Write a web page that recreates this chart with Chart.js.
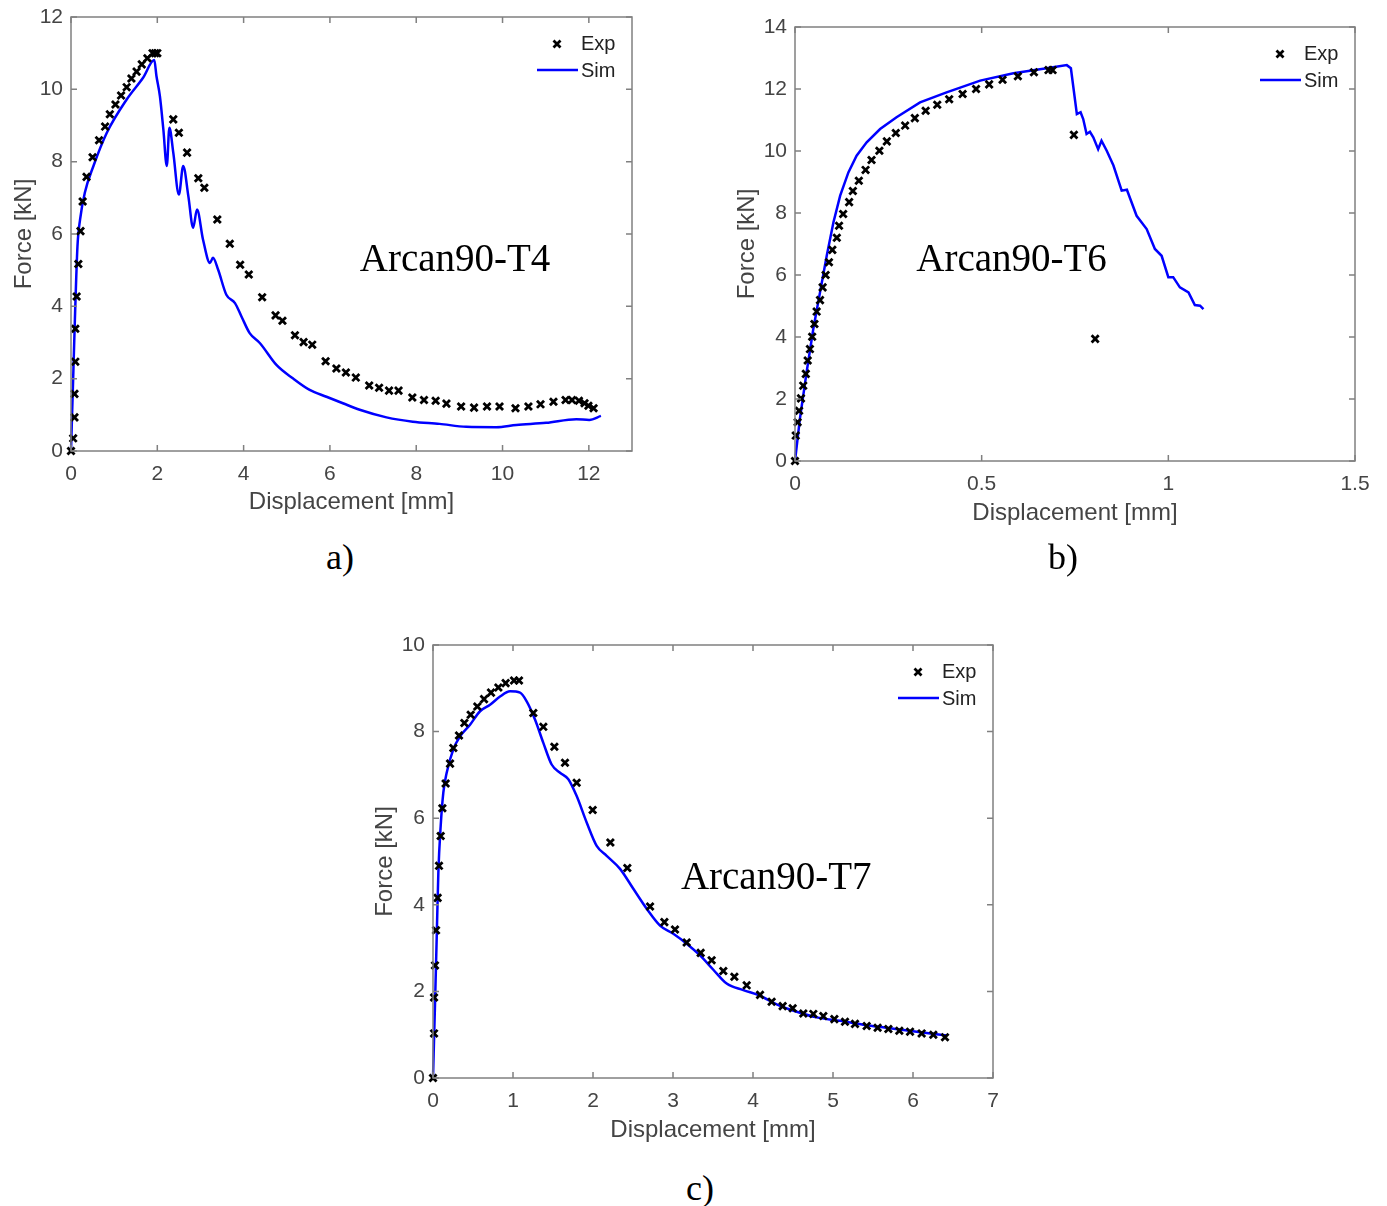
<!DOCTYPE html>
<html lang="en">
<head>
    <script src="https://cdn.jsdelivr.net/npm/chart.js"></script>
    <meta charset="UTF-8">
    <title>Arcan90 force-displacement</title>
    <style>
        body {
            margin: 0;
            background-color: #fff;
            width: 1387px;
            height: 1206px;
            position: relative;
            overflow: hidden;
        }
        canvas {
            position: absolute;
        }
        .panel-label {
            position: absolute;
            font-family: "Liberation Serif", "Times New Roman", serif;
            font-size: 36px;
            color: #000;
            transform: translate(-50%, -50%);
        }
    </style>
</head>
<body>
    <canvas id="chartA" width="650" height="530" style="left:0px; top:0px;"></canvas>
    <canvas id="chartB" width="660" height="540" style="left:720px; top:0px;"></canvas>
    <canvas id="chartC" width="650" height="540" style="left:360px; top:620px;"></canvas>
    <div class="panel-label" style="left:340px; top:557px;">a)</div>
    <div class="panel-label" style="left:1063px; top:557px;">b)</div>
    <div class="panel-label" style="left:700px; top:1188px;">c)</div>

    <script>
        // ---- a) Arcan90-T4 ----
        const expDispA = [0, 0.05, 0.08, 0.08, 0.1, 0.1, 0.13, 0.17, 0.22, 0.27, 0.36, 0.5, 0.65, 0.79, 0.9, 1.03, 1.16, 1.29, 1.4, 1.52, 1.64, 1.77, 1.89, 1.95, 2.0,
            2.37, 2.5, 2.69, 2.95, 3.09, 3.39, 3.68, 3.92, 4.12, 4.43, 4.74, 4.9, 5.19, 5.39, 5.59, 5.9, 6.15, 6.37, 6.6, 6.91, 7.14, 7.37, 7.59,
            7.91, 8.18, 8.45, 8.7, 9.04, 9.34, 9.64, 9.93, 10.3, 10.6, 10.88, 11.18, 11.46, 11.61, 11.77, 11.9, 11.99, 12.11];
        const expForceA = [0, 0.35, 0.93, 1.58, 2.47, 3.38, 4.27, 5.17, 6.08, 6.9, 7.58, 8.12, 8.59, 8.97, 9.31, 9.58, 9.83, 10.06, 10.3, 10.49, 10.69, 10.86, 11.0, 11.0, 11.0,
            9.17, 8.8, 8.25, 7.54, 7.28, 6.4, 5.73, 5.15, 4.88, 4.25, 3.75, 3.6, 3.2, 3.01, 2.94, 2.48, 2.28, 2.17, 2.03, 1.81, 1.75, 1.67, 1.67,
            1.48, 1.41, 1.39, 1.31, 1.23, 1.2, 1.23, 1.23, 1.18, 1.23, 1.29, 1.36, 1.41, 1.41, 1.39, 1.32, 1.25, 1.18];
        const simDispA = [0, 0.05, 0.09, 0.15, 0.21, 0.32, 0.52, 0.83, 1.29, 1.67, 1.93, 1.98, 2.06, 2.14, 2.22, 2.28, 2.37, 2.5, 2.6, 2.72, 2.83, 2.92,
            3.06, 3.22, 3.29, 3.41, 3.6, 3.8, 3.95, 4.14, 4.38, 4.76, 5.14, 5.53, 5.92, 6.3, 6.69, 7.31, 7.92, 8.54, 9.16, 9.85, 10.32, 11.01, 11.71, 12.01, 12.28];
        const simForceA = [0, 2.0, 3.63, 5.66, 6.4, 7.14, 7.88, 8.8, 9.72, 10.32, 10.81, 10.37, 9.81, 8.89, 7.88, 8.94, 8.25, 7.09, 7.88, 7.04, 6.17, 6.68,
            5.84, 5.2, 5.34, 5.01, 4.32, 4.09, 3.72, 3.26, 2.98, 2.38, 2.01, 1.69, 1.5, 1.32, 1.14, 0.93, 0.81, 0.75, 0.67, 0.66, 0.72, 0.78, 0.88, 0.86, 0.97];
        const xTicksA = [0, 2, 4, 6, 8, 10, 12];
        const xMaxA = 13;
        const yTicksA = [0, 2, 4, 6, 8, 10, 12];

        // ---- b) Arcan90-T6 ----
        const expDispB = [0, 0.002, 0.007, 0.011, 0.016, 0.022, 0.029, 0.034, 0.04, 0.046, 0.052, 0.058, 0.067, 0.074, 0.082, 0.091, 0.1, 0.112, 0.118, 0.129,
            0.145, 0.155, 0.171, 0.189, 0.205, 0.226, 0.246, 0.27, 0.295, 0.321, 0.35, 0.381, 0.413, 0.449, 0.485, 0.52, 0.556, 0.597, 0.64, 0.679, 0.69, 0.747, 0.804];
        const expForceB = [0, 0.82, 1.25, 1.62, 2.02, 2.43, 2.81, 3.24, 3.61, 4.01, 4.42, 4.82, 5.19, 5.6, 6.0, 6.41, 6.81, 7.2, 7.59, 7.97,
            8.35, 8.71, 9.04, 9.39, 9.71, 10.01, 10.31, 10.58, 10.82, 11.06, 11.3, 11.49, 11.67, 11.84, 12.0, 12.15, 12.3, 12.41, 12.54, 12.61, 12.61, 10.52, 3.94];
        const simDispB = [0, 0.013, 0.031, 0.049, 0.067, 0.085, 0.103, 0.121, 0.143, 0.165, 0.192, 0.228, 0.272, 0.335, 0.406, 0.496, 0.585, 0.674, 0.728, 0.739,
            0.755, 0.765, 0.772, 0.781, 0.79, 0.799, 0.812, 0.821, 0.835, 0.853, 0.875, 0.889, 0.915, 0.942, 0.964, 0.982, 1.0, 1.013, 1.031, 1.054, 1.071, 1.085, 1.094];
        const simForceB = [0, 1.35, 2.86, 4.26, 5.44, 6.62, 7.7, 8.56, 9.31, 9.85, 10.28, 10.71, 11.09, 11.57, 11.89, 12.27, 12.51, 12.67, 12.77, 12.67,
            11.19, 11.25, 11.03, 10.55, 10.62, 10.44, 10.06, 10.33, 10.01, 9.53, 8.72, 8.75, 7.91, 7.48, 6.84, 6.62, 5.93, 5.93, 5.6, 5.44, 5.03, 5.01, 4.9];
        const xTicksB = [0, 0.5, 1, 1.5];
        const yTicksB = [0, 2, 4, 6, 8, 10, 12, 14];

        // ---- c) Arcan90-T7 ----
        const expDispC = [0, 0.013, 0.013, 0.025, 0.038, 0.058, 0.075, 0.096, 0.117, 0.158, 0.213, 0.254, 0.325, 0.392, 0.471, 0.554, 0.638, 0.725, 0.817, 0.908,
            1.013, 1.075, 1.254, 1.379, 1.517, 1.65, 1.796, 1.996, 2.217, 2.429, 2.713, 2.892, 3.025, 3.171, 3.346, 3.483, 3.629, 3.767, 3.921, 4.088,
            4.233, 4.371, 4.496, 4.629, 4.754, 4.879, 5.017, 5.15, 5.275, 5.421, 5.558, 5.692, 5.829, 5.963, 6.108, 6.254, 6.4];
        const expForceC = [0, 1.03, 1.86, 2.6, 3.41, 4.16, 4.9, 5.59, 6.23, 6.8, 7.26, 7.62, 7.91, 8.2, 8.39, 8.58, 8.75, 8.9, 9.02, 9.12,
            9.18, 9.18, 8.43, 8.11, 7.65, 7.28, 6.82, 6.19, 5.44, 4.85, 3.96, 3.6, 3.43, 3.13, 2.89, 2.72, 2.47, 2.34, 2.14, 1.92,
            1.76, 1.66, 1.61, 1.49, 1.48, 1.43, 1.36, 1.3, 1.25, 1.2, 1.16, 1.13, 1.09, 1.07, 1.03, 1.0, 0.94];
        const simDispC = [0, 0.025, 0.046, 0.067, 0.096, 0.129, 0.171, 0.254, 0.338, 0.463, 0.588, 0.713, 0.838, 0.963, 1.088, 1.171, 1.275, 1.379, 1.483,
            1.588, 1.692, 1.796, 1.921, 2.046, 2.171, 2.338, 2.504, 2.671, 2.838, 3.004, 3.171, 3.338, 3.504, 3.671, 3.879, 4.088, 4.296, 4.546, 4.796,
            5.088, 5.379, 5.713, 6.046, 6.421];
        const simForceC = [0, 1.69, 3.22, 4.75, 5.82, 6.59, 7.05, 7.59, 7.89, 8.16, 8.47, 8.62, 8.81, 8.93, 8.9, 8.7, 8.28, 7.74, 7.24,
            7.05, 6.9, 6.51, 5.9, 5.36, 5.13, 4.83, 4.37, 3.91, 3.52, 3.33, 3.1, 2.83, 2.5, 2.18, 2.03, 1.9, 1.7, 1.53, 1.4,
            1.32, 1.23, 1.15, 1.07, 0.98];
        const xTicksC = [0, 1, 2, 3, 4, 5, 6, 7];
        const yTicksC = [0, 2, 4, 6, 8, 10];

        const seriesNames = ['Exp', 'Sim'];

        const tickFont = { family: '"Liberation Sans", Arial, sans-serif', size: 21 };
        const titleFont = { family: '"Liberation Sans", Arial, sans-serif', size: 24 };
        const textGray = '#444';

        // draws the matlab-style box, inward ticks, legend and the specimen name
        const matlabBox = {
            id: 'matlabBox',
            afterDatasetsDraw(chart, args, opts) {
                const { ctx, chartArea: a, scales: { x, y } } = chart;
                ctx.save();
                ctx.strokeStyle = '#808080';
                ctx.lineWidth = 1.5;
                ctx.strokeRect(a.left, a.top, a.right - a.left, a.bottom - a.top);
                ctx.beginPath();
                x.ticks.forEach(t => {
                    const px = x.getPixelForValue(t.value);
                    ctx.moveTo(px, a.bottom); ctx.lineTo(px, a.bottom - 6);
                    ctx.moveTo(px, a.top); ctx.lineTo(px, a.top + 6);
                });
                y.ticks.forEach(t => {
                    const py = y.getPixelForValue(t.value);
                    ctx.moveTo(a.left, py); ctx.lineTo(a.left + 6, py);
                    ctx.moveTo(a.right, py); ctx.lineTo(a.right - 6, py);
                });
                ctx.stroke();

                // specimen name
                ctx.fillStyle = '#000';
                ctx.font = '39px "Liberation Serif", "Times New Roman", serif';
                ctx.textAlign = 'center';
                ctx.textBaseline = 'middle';
                ctx.fillText(opts.name, x.getPixelForValue(opts.nameX), y.getPixelForValue(opts.nameY));

                // legend
                const exp = chart.data.datasets[0];
                const sim = chart.data.datasets[1];
                const tx = a.right - 51;
                const y1 = a.top + 27;
                const y2 = a.top + 54;
                ctx.font = '20px "Liberation Sans", Arial, sans-serif';
                ctx.textAlign = 'left';
                ctx.fillStyle = '#222';
                ctx.fillText(exp.label, tx, y1);
                ctx.fillText(sim.label, tx, y2);
                ctx.strokeStyle = exp.borderColor;
                ctx.lineWidth = exp.borderWidth;
                const mx = tx - 24, d = 3.5;
                ctx.beginPath();
                ctx.moveTo(mx - d, y1 - d); ctx.lineTo(mx + d, y1 + d);
                ctx.moveTo(mx + d, y1 - d); ctx.lineTo(mx - d, y1 + d);
                ctx.stroke();
                ctx.strokeStyle = sim.borderColor;
                ctx.lineWidth = sim.borderWidth;
                ctx.beginPath();
                ctx.moveTo(tx - 44, y2 - 1); ctx.lineTo(tx - 3, y2 - 1);
                ctx.stroke();
                ctx.restore();
            }
        };

        function axis(ticksArr, max, title, isX, size, tickPad, titlePad) {
            return {
                type: 'linear',
                min: ticksArr[0],
                max: max,
                afterBuildTicks: s => { s.ticks = ticksArr.map(v => ({ value: v })); },
                afterFit: s => {
                    if (isX) s.height = size; else s.width = size;
                    s.paddingLeft = 0; s.paddingRight = 0; s.paddingTop = 0; s.paddingBottom = 0;
                },
                grid: { display: false, drawTicks: false },
                border: { display: false },
                ticks: {
                    color: textGray,
                    font: tickFont,
                    padding: tickPad,
                    maxRotation: 0,
                    autoSkip: false,
                    callback: v => String(v)
                },
                title: {
                    display: true,
                    text: title,
                    color: textGray,
                    font: titleFont,
                    padding: isX ? { bottom: titlePad } : { top: titlePad }
                }
            };
        }

        function toPoints(xs, ys) {
            return xs.map((v, i) => ({ x: v, y: ys[i] }));
        }

        function makeChart(id, c) {
            return new Chart(document.getElementById(id), {
                type: 'scatter',
                data: {
                    datasets: [{
                        label: seriesNames[0],
                        data: toPoints(c.expX, c.expY),
                        showLine: false,
                        pointStyle: 'crossRot',
                        pointRadius: 5,
                        pointBorderWidth: 2.8,
                        borderColor: '#000',
                        borderWidth: 2.8,
                        backgroundColor: '#000',
                        clip: false
                    }, {
                        label: seriesNames[1],
                        data: toPoints(c.simX, c.simY),
                        showLine: true,
                        pointRadius: 0,
                        borderColor: '#0000ff',
                        borderWidth: 2.5,
                        cubicInterpolationMode: c.smooth ? 'monotone' : 'default',
                        tension: 0,
                        clip: false
                    }]
                },
                options: {
                    responsive: false,
                    animation: false,
                    devicePixelRatio: 1,
                    layout: { padding: { left: 0, top: c.padTop, right: c.padRight, bottom: 0 } },
                    plugins: {
                        legend: { display: false },
                        tooltip: { enabled: false },
                        matlabBox: { name: c.name, nameX: c.nameX, nameY: c.nameY }
                    },
                    scales: {
                        x: axis(c.xTicks, c.xMax, 'Displacement [mm]', true, c.xSize, 11, c.xTitlePad),
                        y: axis(c.yTicks, c.yTicks[c.yTicks.length - 1], 'Force [kN]', false, c.ySize, 8, c.yTitlePad)
                    }
                },
                plugins: [matlabBox]
            });
        }

        makeChart('chartA', {
            expX: expDispA, expY: expForceA, simX: simDispA, simY: simForceA,
            xTicks: xTicksA, xMax: xMaxA, yTicks: yTicksA, smooth: true,
            name: 'Arcan90-T4', nameX: 8.9, nameY: 5.25,
            padTop: 17, padRight: 18, xSize: 79, ySize: 71, xTitlePad: 13, yTitlePad: 10
        });
        makeChart('chartB', {
            expX: expDispB, expY: expForceB, simX: simDispB, simY: simForceB,
            xTicks: xTicksB, xMax: 1.5, yTicks: yTicksB, smooth: false,
            name: 'Arcan90-T6', nameX: 0.58, nameY: 6.45,
            padTop: 27, padRight: 25, xSize: 79, ySize: 75, xTitlePad: 12, yTitlePad: 13
        });
        makeChart('chartC', {
            expX: expDispC, expY: expForceC, simX: simDispC, simY: simForceC,
            xTicks: xTicksC, xMax: 7, yTicks: yTicksC, smooth: true,
            name: 'Arcan90-T7', nameX: 4.29, nameY: 4.6,
            padTop: 25, padRight: 17, xSize: 82, ySize: 73, xTitlePad: 15, yTitlePad: 11
        });
    </script>
</body>
</html>
